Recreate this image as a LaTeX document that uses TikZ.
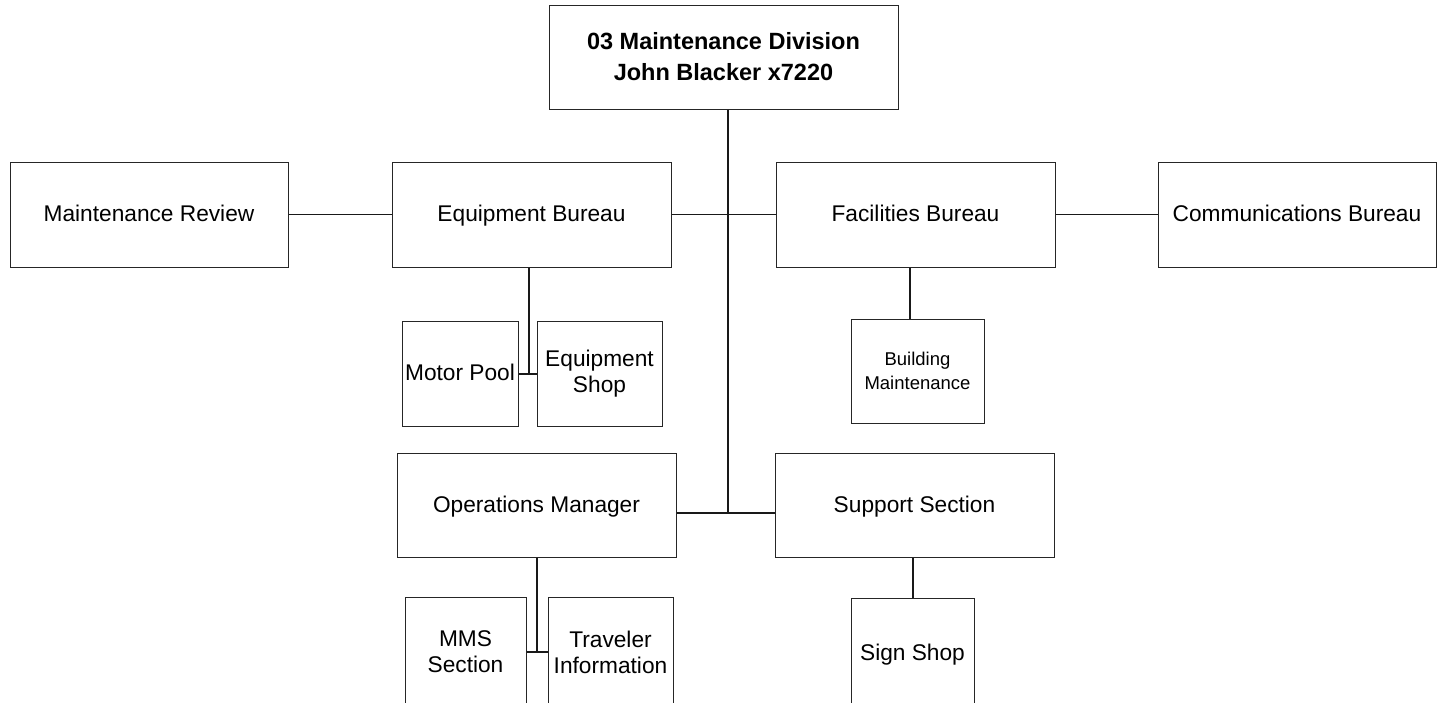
\documentclass[tikz,border=0pt]{standalone}
\usepackage{fontspec}
\setmainfont{Liberation Sans}
\begin{document}
\begin{tikzpicture}[x=1pt,y=-1pt,
  box/.style={draw=black!85, line width=1pt, fill=white, align=center, inner sep=0pt,
    font=\fontsize{22.7}{26}\selectfont},
  oneline/.style={box, text height=16pt, text depth=2pt},
  headbox/.style={box, font=\fontsize{23.5}{31}\selectfont\bfseries},
  smallbox/.style={box, font=\fontsize{18.5}{24}\selectfont},
  link/.style={draw=black!90, line width=1.6pt}]
\useasboundingbox (0,0) rectangle (1440,702);
\clip (0,0) rectangle (1440,702);

% division head
\node[headbox, minimum width=349, minimum height=104] (top) at (723.5,57)
  {03 Maintenance Division\\John Blacker x7220};

% bureau row
\node[oneline, minimum width=278, minimum height=105] (mrev) at (149,214.5) {Maintenance Review};
\node[oneline, minimum width=279, minimum height=105] (eqb)  at (531.5,214.5) {Equipment Bureau};
\node[oneline, minimum width=279, minimum height=105] (fac)  at (915.5,214.5) {Facilities Bureau};
\node[oneline, minimum width=278, minimum height=105] (comm) at (1297,214.5) {Communications Bureau};

% units under the bureaus
\node[oneline, minimum width=116, minimum height=105] (motor) at (460,373.5) {Motor Pool};
\node[box, minimum width=125, minimum height=105] (eshop) at (599.5,373.5) {Equipment\\Shop};
\node[smallbox, minimum width=133, minimum height=104] (bldg) at (917.5,371) {Building\\Maintenance};

% operations row
\node[oneline, minimum width=279, minimum height=104] (ops) at (536.5,505) {Operations Manager};
\node[oneline, minimum width=279, minimum height=104] (sup) at (914.5,505) {Support Section};

% units under operations
\node[box, minimum width=121, minimum height=110] (mms)  at (465.5,652) {MMS\\Section};
\node[box, minimum width=125, minimum height=110] (trav) at (610.5,652) {Traveler\\Information};
\node[oneline, minimum width=123, minimum height=110] (sign) at (912.5,653) {Sign Shop};

% junction points
\coordinate (trunk) at (728,513);
\coordinate (ej) at (529,374);
\coordinate (fj) at (910,300);
\coordinate (oj) at (537,652);
\coordinate (sj) at (913,580);

% main trunk and cross bars
\draw[link] (top.south -| trunk) -- (trunk);
\draw[link] (eqb.east) -- (fac.west);
\draw[link] (ops.east |- trunk) -- (sup.west |- trunk);
\draw[link] (mrev.east) -- (eqb.west);
\draw[link] (fac.east) -- (comm.west);

% branches to the units
\draw[link] (eqb.south -| ej) -- (ej);
\draw[link] (motor.east |- ej) -- (eshop.west |- ej);
\draw[link] (fac.south -| fj) -- (bldg.north -| fj);
\draw[link] (ops.south -| oj) -- (oj);
\draw[link] (mms.east |- oj) -- (trav.west |- oj);
\draw[link] (sup.south -| sj) -- (sign.north -| sj);
\end{tikzpicture}
\end{document}
